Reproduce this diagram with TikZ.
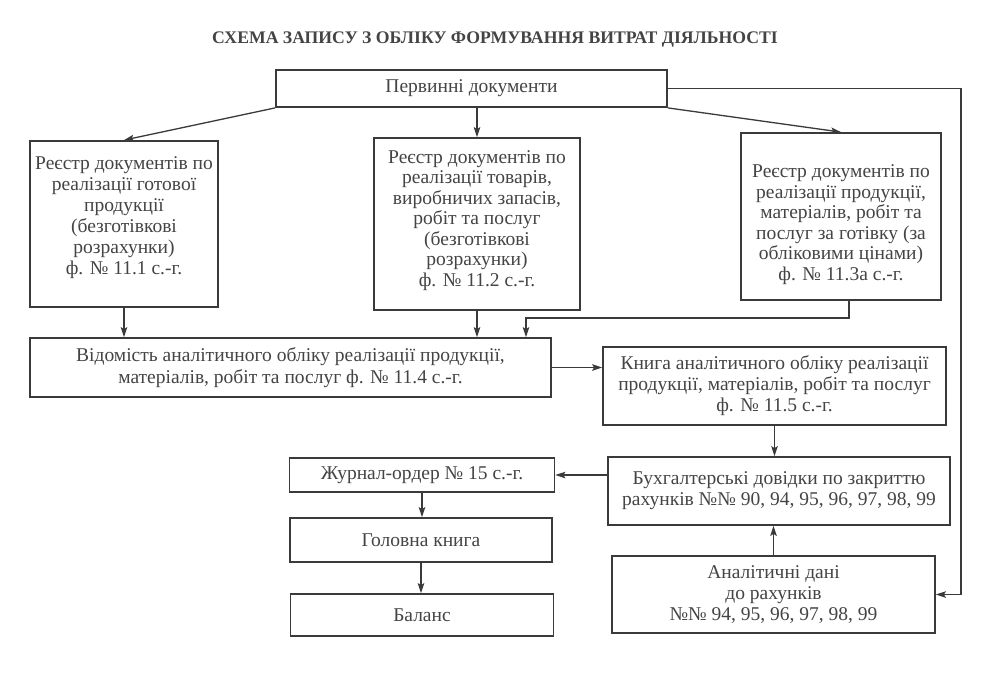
\documentclass[tikz,border=0pt]{standalone}
\usepackage{fontspec}
\setmainfont{Liberation Serif}
\usetikzlibrary{arrows.meta}
\definecolor{ink}{HTML}{3A3A3A}
\definecolor{txtc}{HTML}{444444}
\begin{document}
\begin{tikzpicture}[x=1pt,y=-1pt,
  box/.style={draw=ink, line width=1.8pt, inner sep=0pt, align=center,
    font={\fontsize{19.5}{21}\selectfont}, text=txtc},
  lbl/.style={align=center, inner sep=0pt, font={\fontsize{19.5}{21}\selectfont}, text=txtc},
  conn/.style={draw=ink, line width=1.3pt, -{Stealth[length=10pt,width=6.5pt,inset=2pt]}},
  ttl/.style={font={\bfseries\fontsize{17.7}{20}\selectfont}, text=txtc}]
\useasboundingbox[fill=white] (0,0) rectangle (991,675);
\node[ttl] (title) at (495,40) {СХЕМА ЗАПИСУ З ОБЛІКУ ФОРМУВАННЯ ВИТРАТ ДІЯЛЬНОСТІ};
\node[box, minimum width=391pt, minimum height=37pt] (top) at (471.5,88.5) {Первинні документи};
\node[box, minimum width=188pt, minimum height=166pt] (r1) at (124,224) {};
\node[lbl, yshift=6pt] (t1) at (r1.center) {Реєстр документів по\\реалізації готової\\продукції\\(безготівкові\\розрахунки)\\ф. № 11.1 с.-г.};
\node[box, minimum width=206pt, minimum height=172pt] (r2) at (477,224) {};
\node[lbl, yshift=3.5pt, font={\fontsize{19.5}{20.5}\selectfont}] (t2) at (r2.center) {Реєстр документів по\\реалізації товарів,\\виробничих запасів,\\робіт та послуг\\(безготівкові\\розрахунки)\\ф. № 11.2 с.-г.};
\node[box, minimum width=200pt, minimum height=167pt] (r3) at (841,216.5) {};
\node[lbl, yshift=-8pt, font={\fontsize{19.5}{20.5}\selectfont}] (t3) at (r3.center) {Реєстр документів по\\реалізації продукції,\\матеріалів, робіт та\\послуг за готівку (за\\обліковими цінами)\\ф. № 11.3а с.-г.};
\node[box, minimum width=521pt, minimum height=59pt, font={\fontsize{19.5}{22}\selectfont}] (vid) at (290.5,367.5) {Відомість аналітичного обліку реалізації продукції,\\матеріалів, робіт та послуг ф. № 11.4 с.-г.};
\node[box, minimum width=343pt, minimum height=78pt] (kn) at (774.5,386) {Книга аналітичного обліку реалізації\\продукції, матеріалів, робіт та послуг\\ф. № 11.5 с.-г.};
\node[box, minimum width=342pt, minimum height=68pt] (buh) at (779,491) {Бухгалтерські довідки по закриттю\\рахунків №№ 90, 94, 95, 96, 97, 98, 99};
\node[box, minimum width=323pt, minimum height=77pt] (anal) at (773.5,594.5) {Аналітичні дані\\до рахунків\\№№ 94, 95, 96, 97, 98, 99};
\node[box, minimum width=265pt, minimum height=34pt] (zh) at (422,475) {Журнал-ордер № 15 с.-г.};
\node[box, minimum width=262pt, minimum height=44pt] (gol) at (421,540) {Головна книга};
\node[box, minimum width=263pt, minimum height=42pt] (bal) at (422,615) {Баланс};
\coordinate (c1) at (849,318);
\coordinate (c2) at (526,318);
\coordinate (c3) at (961,88.5);
\coordinate (c4) at (961,594.5);
\draw[conn] (top.south west) -- (r1.north);
\draw[conn] (top.south -| r2.north) -- (r2.north);
\draw[conn] (top.south east) -- (r3.north);
\draw[conn] (r1.south) -- (r1.south |- vid.north);
\draw[conn] (r2.south) -- (r2.south |- vid.north);
\draw[conn] (r3.south -| c1) -- (c1) -- (c2) -- (c2 |- vid.north);
\draw[conn] (vid.east) -- (vid.east -| kn.west);
\draw[conn] (kn.south) -- (kn.south |- buh.north);
\draw[conn] (anal.north) -- (anal.north |- buh.south);
\draw[conn] (buh.west |- zh.east) -- (zh.east);
\draw[conn] (zh.south) -- (zh.south |- gol.north);
\draw[conn] (gol.south) -- (gol.south |- bal.north);
\draw[conn] (top.east) -- (c3) -- (c4) -- (anal.east);
\end{tikzpicture}
\end{document}
